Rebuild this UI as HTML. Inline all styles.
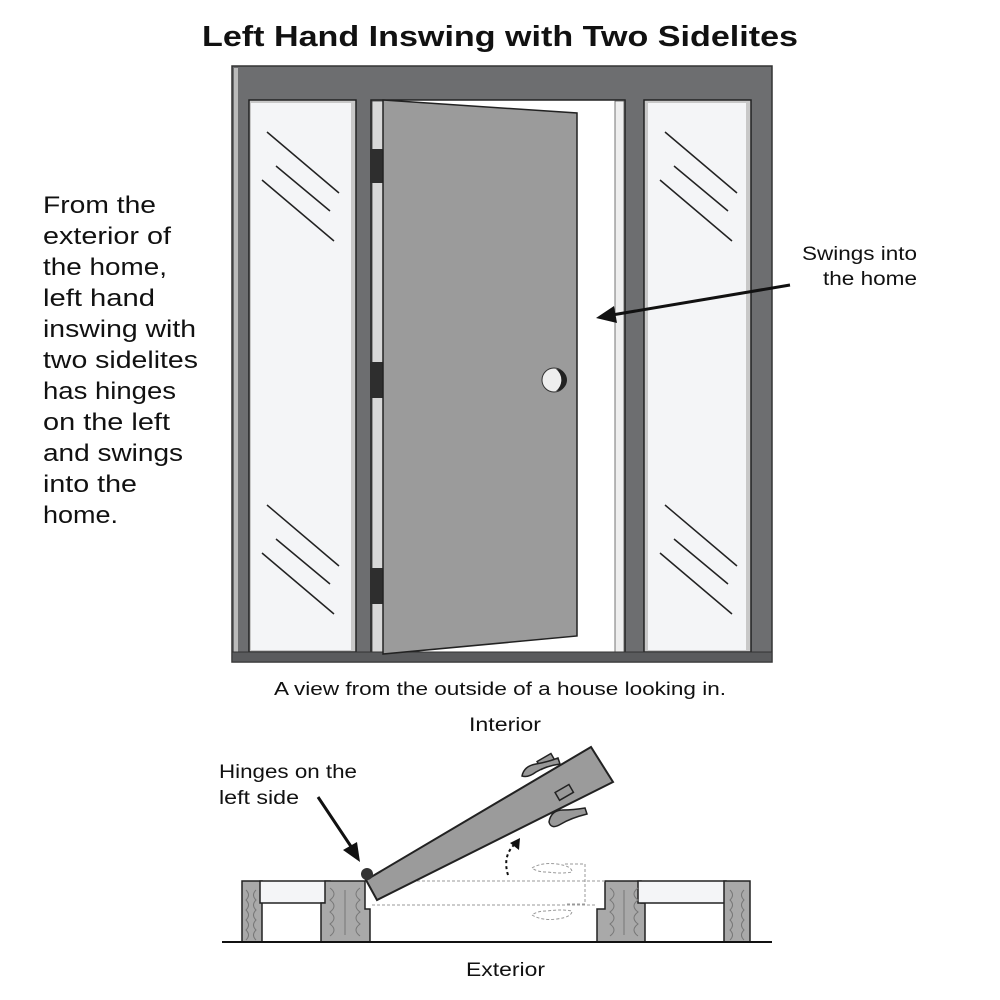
<!DOCTYPE html>
<html><head><meta charset="utf-8"><style>
html,body{margin:0;padding:0;background:#fff}
svg{display:block}
text{font-family:"Liberation Sans",sans-serif;fill:#111}
</style></head><body>
<svg width="1000" height="1000" viewBox="0 0 1000 1000" xmlns="http://www.w3.org/2000/svg">
<text x="202" y="46" font-size="29" font-weight="bold" textLength="596" lengthAdjust="spacingAndGlyphs">Left Hand Inswing with Two Sidelites</text>

<rect x="232" y="66" width="540" height="596" fill="#6d6e70" stroke="#333" stroke-width="1.5"/>
<rect x="234" y="68" width="4" height="592" fill="#bbb"/>
<rect x="249" y="100" width="107" height="552" fill="#c8c8c8" stroke="#222" stroke-width="1.5"/>
<rect x="251" y="103" width="100" height="547" fill="#f4f5f7"/>
<rect x="644" y="100" width="107" height="552" fill="#c8c8c8" stroke="#222" stroke-width="1.5"/>
<rect x="648" y="103" width="98" height="547" fill="#f4f5f7"/>
<rect x="371" y="100" width="254" height="553" fill="#fff" stroke="#222" stroke-width="1.5"/>
<rect x="372" y="101" width="11" height="551" fill="#d8d8d8" stroke="#333" stroke-width="0.8"/>
<rect x="615" y="101" width="9" height="551" fill="#eee" stroke="#555" stroke-width="0.8"/>
<rect x="232" y="652" width="540" height="10" fill="#5a5b5d" stroke="#333" stroke-width="1"/>
<rect x="370" y="149" width="13" height="34" fill="#2e2e2e"/>
<rect x="370" y="362" width="13" height="36" fill="#2e2e2e"/>
<rect x="370" y="568" width="13" height="36" fill="#2e2e2e"/>
<polygon points="383,100 577,113 577,636 383,654" fill="#9b9b9b" stroke="#222" stroke-width="1.5"/>
<circle cx="554" cy="380" r="12" fill="#eee" stroke="#333" stroke-width="1"/>
<path d="M556 369 A11 11 0 0 1 556 391 A14 14 0 0 0 556 369Z" fill="#222"/>
<g stroke="#222" stroke-width="1.5">
<line x1="267" y1="132" x2="339" y2="193"/><line x1="276" y1="166" x2="330" y2="211"/><line x1="262" y1="180" x2="334" y2="241"/>
<line x1="267" y1="505" x2="339" y2="566"/><line x1="276" y1="539" x2="330" y2="584"/><line x1="262" y1="553" x2="334" y2="614"/>
<line x1="665" y1="132" x2="737" y2="193"/><line x1="674" y1="166" x2="728" y2="211"/><line x1="660" y1="180" x2="732" y2="241"/>
<line x1="665" y1="505" x2="737" y2="566"/><line x1="674" y1="539" x2="728" y2="584"/><line x1="660" y1="553" x2="732" y2="614"/>
</g>

<g font-size="24">
<text x="43" y="213" textLength="113" lengthAdjust="spacingAndGlyphs">From the</text>
<text x="43" y="244" textLength="128" lengthAdjust="spacingAndGlyphs">exterior of</text>
<text x="43" y="275" textLength="124" lengthAdjust="spacingAndGlyphs">the home,</text>
<text x="43" y="306" textLength="112" lengthAdjust="spacingAndGlyphs">left hand</text>
<text x="43" y="337" textLength="153" lengthAdjust="spacingAndGlyphs">inswing with</text>
<text x="43" y="368" textLength="155" lengthAdjust="spacingAndGlyphs">two sidelites</text>
<text x="43" y="399" textLength="133" lengthAdjust="spacingAndGlyphs">has hinges</text>
<text x="43" y="430" textLength="127" lengthAdjust="spacingAndGlyphs">on the left</text>
<text x="43" y="461" textLength="140" lengthAdjust="spacingAndGlyphs">and swings</text>
<text x="43" y="492" textLength="94" lengthAdjust="spacingAndGlyphs">into the</text>
<text x="43" y="523" textLength="75" lengthAdjust="spacingAndGlyphs">home.</text>
</g>
<text x="802" y="260" font-size="19" textLength="115" lengthAdjust="spacingAndGlyphs">Swings into</text>
<text x="823" y="285" font-size="19" textLength="94" lengthAdjust="spacingAndGlyphs">the home</text>
<line x1="790" y1="285" x2="612" y2="315" stroke="#111" stroke-width="3"/>
<polygon points="596,318 614,306 617,323" fill="#111"/>

<text x="274" y="695" font-size="18" textLength="452" lengthAdjust="spacingAndGlyphs">A view from the outside of a house looking in.</text>
<text x="469" y="731" font-size="19" textLength="72" lengthAdjust="spacingAndGlyphs">Interior</text>
<text x="466" y="976" font-size="19" textLength="79" lengthAdjust="spacingAndGlyphs">Exterior</text>
<text x="219" y="778" font-size="19" textLength="138" lengthAdjust="spacingAndGlyphs">Hinges on the</text>
<text x="219" y="804" font-size="19" textLength="80" lengthAdjust="spacingAndGlyphs">left side</text>
<line x1="318" y1="797" x2="352" y2="848" stroke="#111" stroke-width="3"/>
<polygon points="360,862 343,850 357,842" fill="#111"/>

<g stroke="#222" stroke-width="1.5">
<rect x="242" y="881" width="20" height="61" fill="#a9a9a9"/>
<rect x="260" y="881" width="70" height="22" fill="#f4f5f7"/>
<path d="M325 881 H365 V909 H370 V942 H321 V903 H325Z" fill="#a9a9a9"/>
<path d="M605 881 H641 V903 H645 V942 H597 V909 H605Z" fill="#a9a9a9"/>
<rect x="638" y="881" width="88" height="22" fill="#f4f5f7"/>
<rect x="724" y="881" width="26" height="61" fill="#a9a9a9"/>
</g>
<g stroke="#777" stroke-width="1" fill="none">
<path d="M246 890 q5 5 0 10 q5 5 0 10 q5 5 0 10 q5 5 0 10 q5 5 0 10"/>
<path d="M256 890 q-5 5 0 10 q-5 5 0 10 q-5 5 0 10 q-5 5 0 10 q-5 5 0 10"/>
<path d="M330 888 q8 6 0 12 q8 6 0 12 q8 6 0 12 q8 6 0 12"/>
<path d="M360 888 q-8 6 0 12 q-8 6 0 12 q-8 6 0 12 q-8 6 0 12"/>
<path d="M345 890 v45"/>
<path d="M610 888 q8 6 0 12 q8 6 0 12 q8 6 0 12 q8 6 0 12"/>
<path d="M638 888 q-8 6 0 12 q-8 6 0 12 q-8 6 0 12 q-8 6 0 12"/>
<path d="M624 890 v45"/>
<path d="M730 890 q5 5 0 10 q5 5 0 10 q5 5 0 10 q5 5 0 10 q5 5 0 10"/>
<path d="M744 890 q-5 5 0 10 q-5 5 0 10 q-5 5 0 10 q-5 5 0 10 q-5 5 0 10"/>
</g>
<line x1="222" y1="942" x2="772" y2="942" stroke="#111" stroke-width="2"/>
<g stroke="#999" stroke-width="1" stroke-dasharray="3,2" fill="none">
<line x1="372" y1="881" x2="605" y2="881"/>
<line x1="372" y1="905" x2="597" y2="905"/>
<path d="M532 868 q10 -6 25 -4 q15 2 15 8 q-10 2 -25 0 q-10 0 -15 -4z"/>
<path d="M532 915 q10 6 25 4 q15 -2 15 -8 q-10 -2 -25 0 q-10 0 -15 4z"/>
<path d="M565 864 h20 v40 h-20"/>
</g>
<path d="M508 875 q-6 -20 8 -32" stroke="#111" stroke-width="2" stroke-dasharray="3,3" fill="none"/>
<polygon points="520,838 510,843 519,850" fill="#111"/>
<polygon points="366,880 591,747 613,782 377,900" fill="#9b9b9b" stroke="#222" stroke-width="2"/>
<circle cx="367" cy="874" r="6" fill="#333"/>
<g fill="#999" stroke="#222" stroke-width="1.5">
<rect x="538" y="757" width="16" height="9" transform="rotate(-30 546 761)"/>
<path d="M522 776 q2 -10 14 -12 q12 -2 22 -6 l2 6 q-14 2 -24 8 q-8 6 -14 4z"/>
<rect x="556" y="788" width="16" height="9" transform="rotate(-30 564 792)"/>
<path d="M549 822 q2 8 12 2 q10 -6 26 -10 l-2 -6 q-12 2 -22 2 q-12 0 -14 12z"/>
</g>
</svg>
</body></html>
